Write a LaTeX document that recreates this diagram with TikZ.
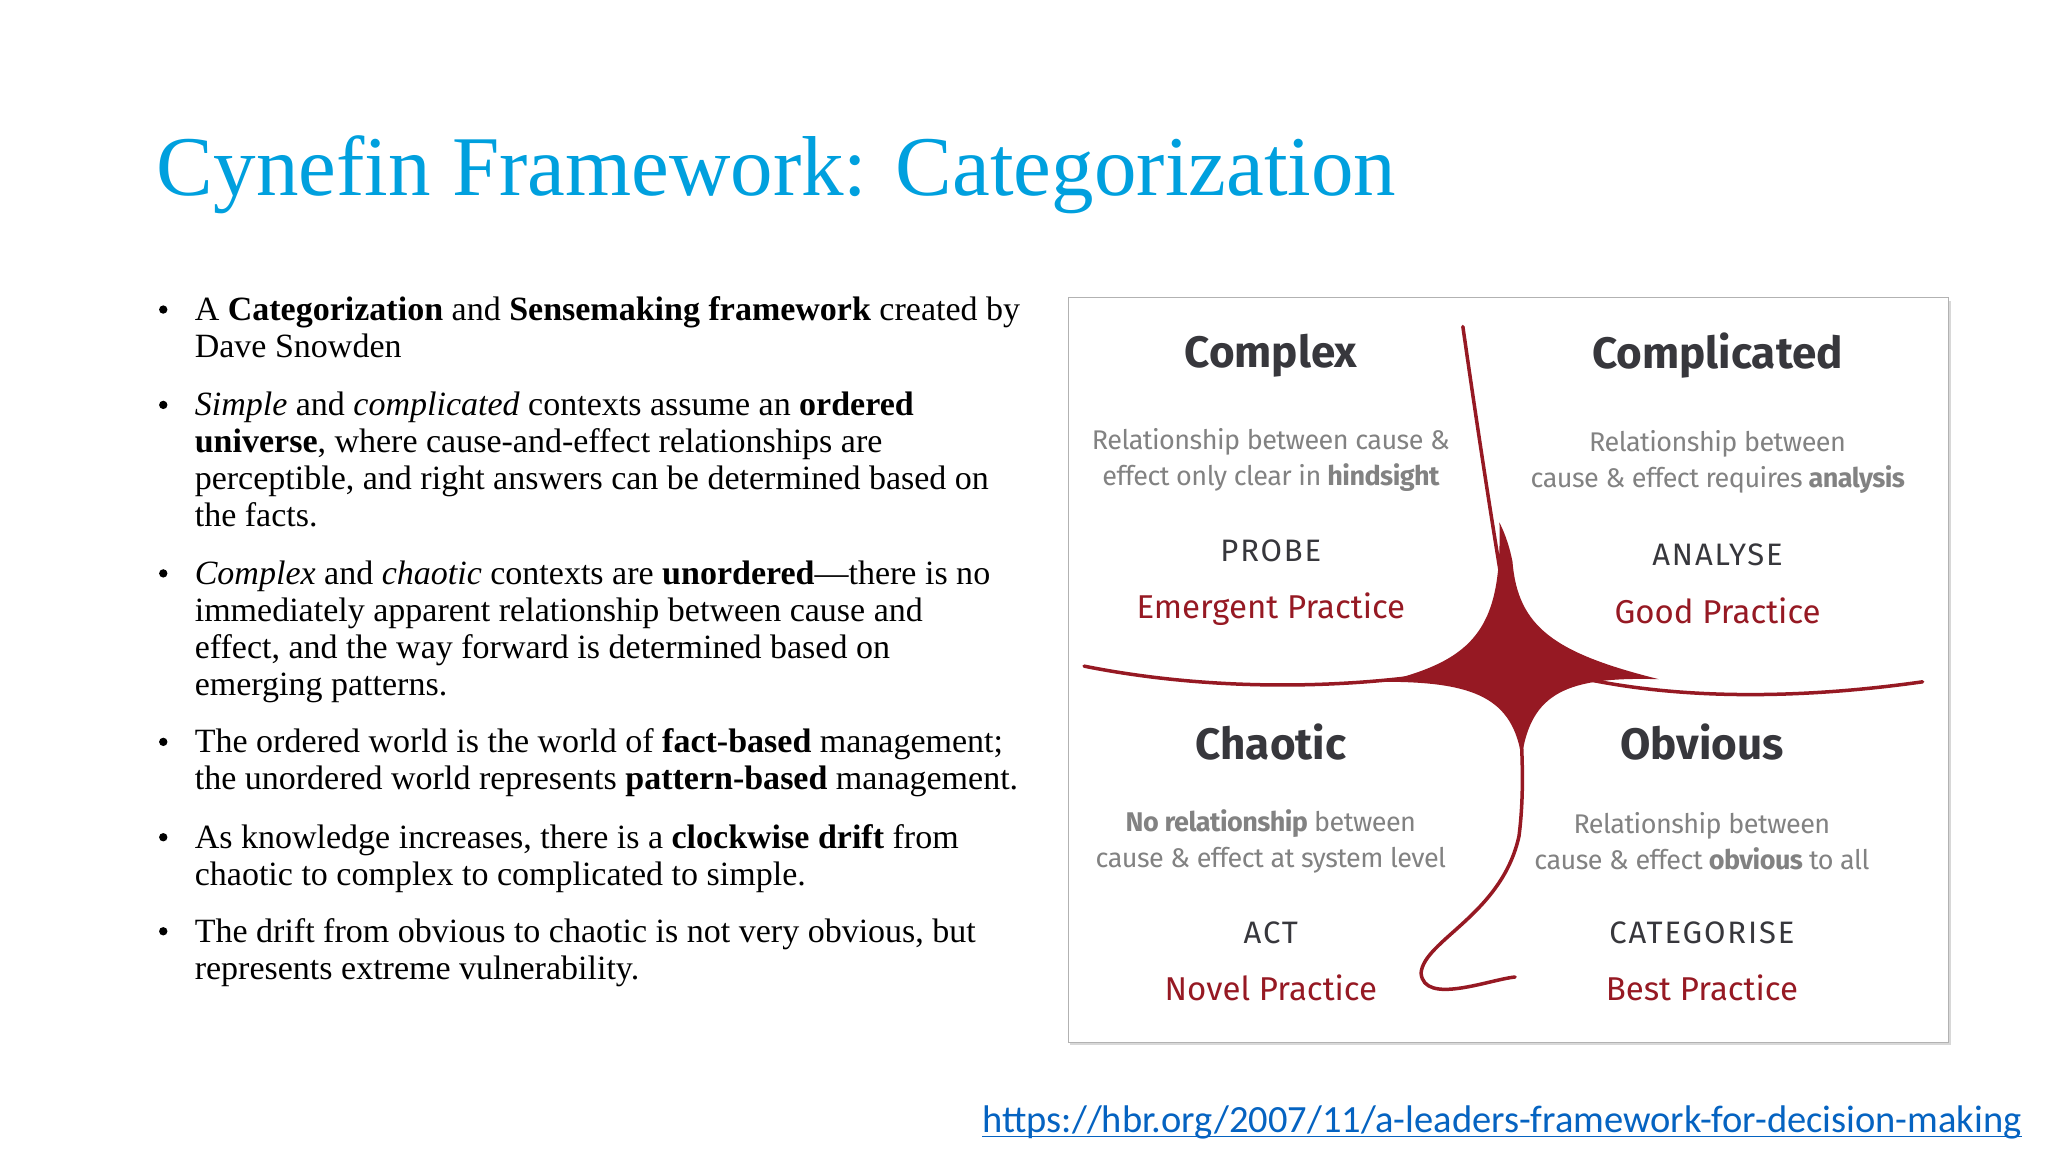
\documentclass[tikz,border=0pt]{standalone}
\usepackage{fontspec}
\setmainfont{Liberation Serif}
\newfontfamily\hand{Fira Sans}
\newfontfamily\calib{Carlito}
\usetikzlibrary{shadows}
\definecolor{ttl}{RGB}{0,160,222}
\definecolor{dred}{RGB}{150,25,35}
\definecolor{gtxt}{RGB}{130,130,130}
\definecolor{htxt}{RGB}{55,55,60}
\definecolor{lnk}{RGB}{5,99,193}
\tikzset{
 head/.style={font=\hand\fontsize{44}{50}\selectfont\bfseries, text=htxt},
 desc/.style={font=\hand\fontsize{27}{36}\selectfont\addfontfeature{LetterSpace=-2}, text=gtxt, align=center},
 verb/.style={font=\hand\fontsize{31}{36}\selectfont\addfontfeature{LetterSpace=6}, text=htxt},
 prac/.style={font=\hand\fontsize{33}{40}\selectfont, text=dred},
 bul/.style={anchor=north west, align=left, font=\fontsize{34}{37}\selectfont, inner sep=0pt}
}
\begin{document}
\begin{tikzpicture}[x=1.306pt,y=-1.306pt]
\useasboundingbox (0,0) rectangle (1568,882);
\fill[white] (0,0) rectangle (1568,882);
\node[anchor=base west, inner sep=0pt, text=ttl, font=\fontsize{85}{90}\selectfont] (title) at (120,150) {Cynefin Framework: Categorization};
% bullets
\foreach \y/\n in {237/b1,310/b2,439/b3,568/b4,641/b5,713/b6}{\fill (125,\y) circle (3.2);}
\node[bul] (b1) at (149,227) {A \textbf{Categorization} and \textbf{Sensemaking framework} created by\\Dave Snowden};
\node[bul] (b2) at (149,300) {\textit{Simple} and \textit{complicated} contexts assume an \textbf{ordered}\\\textbf{universe}, where cause-and-effect relationships are\\perceptible, and right answers can be determined based on\\the facts.};
\node[bul] (b3) at (149,429) {\textit{Complex} and \textit{chaotic} contexts are \textbf{unordered}—there is no\\immediately apparent relationship between cause and\\effect, and the way forward is determined based on\\emerging patterns.};
\node[bul] (b4) at (149,558) {The ordered world is the world of \textbf{fact-based} management;\\the unordered world represents \textbf{pattern-based} management.};
\node[bul] (b5) at (149,631) {As knowledge increases, there is a \textbf{clockwise drift} from\\chaotic to complex to complicated to simple.};
\node[bul] (b6) at (149,703) {The drift from obvious to chaotic is not very obvious, but\\represents extreme vulnerability.};
% diagram box
\node[draw=gray!60, line width=1pt, fill=white, minimum width=674*1.306pt, minimum height=570*1.306pt, drop shadow={shadow xshift=2pt,shadow yshift=-3pt,fill=gray!60}, inner sep=0pt] (box) at (1155,513) {};
% curves
\begin{scope}[dred, line width=3.5pt, line cap=round]
\draw (1120,250) .. controls (1130,320) and (1145,420) .. (1160,505);
\draw (830,510) .. controls (930,530) and (1050,530) .. (1160,505);
\draw (1160,505) .. controls (1260,540) and (1380,535) .. (1472,522);
\draw (1160,505) .. controls (1165,560) and (1168,600) .. (1163,640) .. controls (1150,700) and (1090,720) .. (1088,745) .. controls (1090,770) and (1140,750) .. (1160,748);
\fill (1158,430) .. controls (1162,480) and (1190,500) .. (1270,520)
 .. controls (1200,518) and (1172,530) .. (1165,580)
 .. controls (1158,535) and (1130,522) .. (1060,522)
 .. controls (1130,505) and (1150,480) .. (1148,400)
 .. controls (1153,410) and (1156,420) .. cycle;
\end{scope}
% quadrant texts
\node[head] (cx) at (973,272) {Complex};
\node[desc] (cxd) at (973,352) {Relationship between cause \&\\effect only clear in \textbf{hindsight}};
\node[verb] (cxv) at (973,422) {PROBE};
\node[prac] (cxp) at (973,466) {Emergent Practice};
\node[head] (cp) at (1315,272) {Complicated};
\node[desc] (cpd) at (1315,354) {Relationship between\\cause \& effect requires \textbf{analysis}};
\node[verb] (cpv) at (1315,425) {ANALYSE};
\node[prac] (cpp) at (1315,468) {Good Practice};
\node[head] (ch) at (973,568) {Chaotic};
\node[desc] (chd) at (973,644) {\textbf{No relationship} between\\cause \& effect at system level};
\node[verb] (chv) at (973,714) {ACT};
\node[prac] (chp) at (973,756) {Novel Practice};
\node[head] (ob) at (1303,568) {Obvious};
\node[desc] (obd) at (1303,644) {Relationship between\\cause \& effect \textbf{obvious} to all};
\node[verb] (obv) at (1303,714) {CATEGORISE};
\node[prac] (obp) at (1303,756) {Best Practice};
% link
\node[anchor=base east, inner sep=0pt, text=lnk, font=\calib\fontsize{38.5}{40}\selectfont] (link) at (1548,867) {https://hbr.org/2007/11/a-leaders-framework-for-decision-making};
\draw[lnk, line width=1.5pt] ([yshift=-4pt]link.base west) -- ([yshift=-4pt]link.base east);
\end{tikzpicture}
\end{document}
